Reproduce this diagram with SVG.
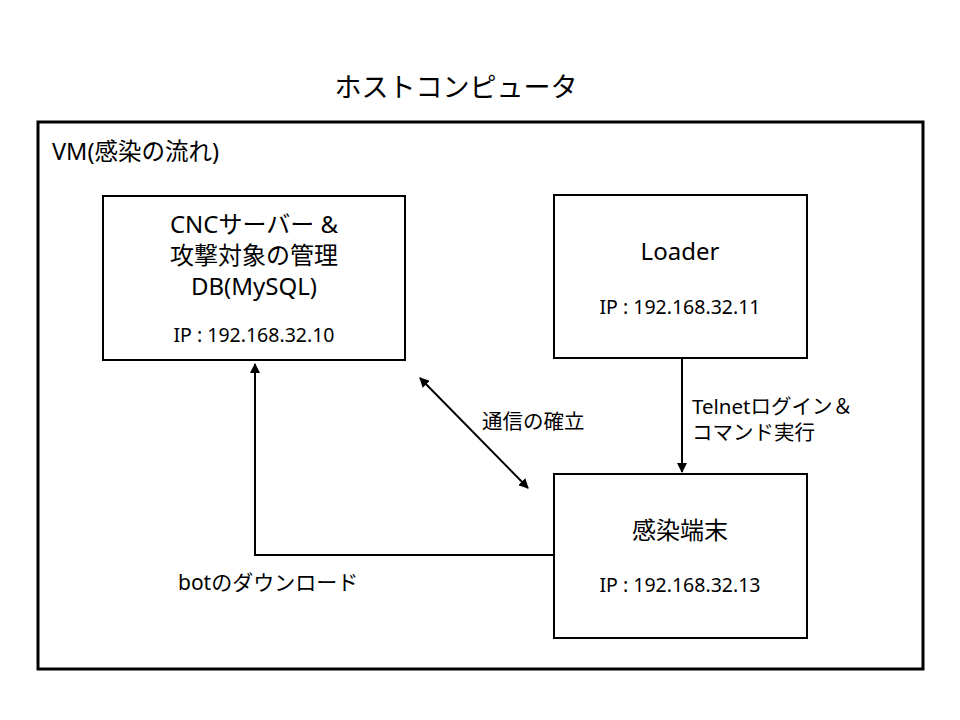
<svg xmlns="http://www.w3.org/2000/svg" width="960" height="720" viewBox="0 0 960 720">
<defs>
<style>
text{font-family:"Noto Sans","Noto Sans CJK JP",sans-serif;fill:#000}
.box{fill:#fff;stroke:#000;stroke-width:2}
.t{font-size:24px;text-anchor:middle}
.ip{font-size:19.5px;text-anchor:middle}
.lbl{font-size:20.5px}
.c{fill:none;stroke:#000;stroke-width:2}
</style>
<marker id="ah" viewBox="0 0 10 10" refX="9" refY="5" markerWidth="5" markerHeight="5" orient="auto-start-reverse" markerUnits="strokeWidth">
<path d="M0,0 L10,5 L0,10 Z" fill="#000"/>
</marker>
</defs>
<rect width="960" height="720" fill="#fff"/>
<text x="456" y="97" style="font-size:27px;text-anchor:middle">ホストコンピュータ</text>
<g id="vm">
<rect x="38" y="122" width="885" height="547" fill="#fff" stroke="#000" stroke-width="3"/>
<text x="52" y="160" style="font-size:23.5px">VM(感染の流れ)</text>
</g>
<g id="cnc">
<rect class="box" x="103" y="196" width="302" height="164"/>
<text x="254" y="233" class="t">CNCサーバー &amp;</text>
<text x="254" y="264" class="t">攻撃対象の管理</text>
<text x="254" y="295" class="t">DB(MySQL)</text>
<text x="254" y="342" class="ip">IP : 192.168.32.10</text>
</g>
<g id="loader">
<rect class="box" x="554" y="195" width="253" height="163"/>
<text x="680" y="260" class="t">Loader</text>
<text x="680" y="314" class="ip">IP : 192.168.32.11</text>
</g>
<g id="infected">
<rect class="box" x="554" y="474" width="253" height="164"/>
<text x="680" y="539" class="t">感染端末</text>
<text x="680" y="592" class="ip">IP : 192.168.32.13</text>
</g>
<g id="connectors">
<line class="c" x1="682" y1="358" x2="682" y2="472" marker-end="url(#ah)"/>
<line class="c" x1="420" y1="378" x2="528" y2="488" marker-start="url(#ah)" marker-end="url(#ah)"/>
<polyline class="c" points="554,555 255,555 255,364" marker-end="url(#ah)"/>
<text x="482" y="429" class="lbl">通信の確立</text>
<text x="692" y="414" class="lbl">Telnetログイン＆</text>
<text x="692" y="440" class="lbl">コマンド実行</text>
<text x="178" y="590" style="font-size:21px">botのダウンロード</text>
</g>
</svg>
